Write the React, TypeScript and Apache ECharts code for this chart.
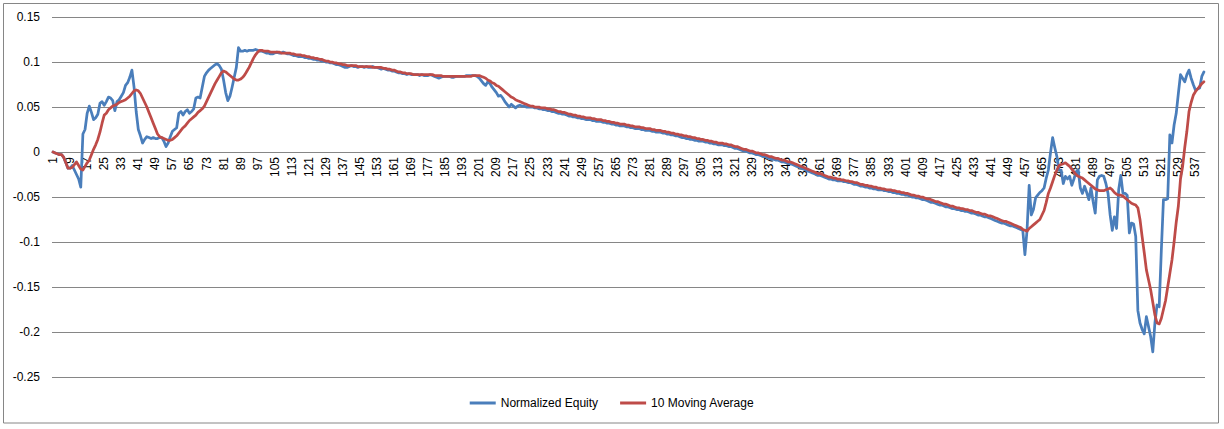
import React, { useEffect, useRef } from "react";
import * as echarts from "echarts";

const seriesNames = ["Normalized Equity", "10 Moving Average"];

const equity: number[] = [
  0, -0.001, -0.002, -0.003, -0.003, -0.006, -0.012, -0.018, -0.018, -0.015,
  -0.02, -0.025, -0.03, -0.039, 0.02, 0.025, 0.043, 0.051, 0.044, 0.036,
  0.038, 0.042, 0.054, 0.056, 0.052, 0.056, 0.061, 0.06, 0.057, 0.046,
  0.056, 0.058, 0.062, 0.066, 0.074, 0.077, 0.083, 0.091, 0.072, 0.045,
  0.025, 0.018, 0.01, 0.014, 0.017, 0.016, 0.015, 0.016, 0.015, 0.015,
  0.016, 0.016, 0.012, 0.006, 0.01, 0.017, 0.023, 0.025, 0.027, 0.043,
  0.045, 0.041, 0.045, 0.047, 0.043, 0.045, 0.048, 0.06, 0.061, 0.06,
  0.072, 0.084, 0.088, 0.091, 0.093, 0.095, 0.097, 0.098, 0.096, 0.092,
  0.08, 0.066, 0.057, 0.062, 0.072, 0.083, 0.094, 0.116, 0.112, 0.112,
  0.113, 0.112, 0.113, 0.113, 0.113, 0.114, 0.113, 0.112, 0.112, 0.111,
  0.11, 0.11, 0.109, 0.109, 0.11, 0.111, 0.11, 0.11, 0.111, 0.11,
  0.109, 0.109, 0.108, 0.107, 0.107, 0.106, 0.106, 0.106, 0.105, 0.105,
  0.104, 0.104, 0.103, 0.103, 0.102, 0.102, 0.101, 0.101, 0.1, 0.1,
  0.099, 0.099, 0.098, 0.097, 0.097, 0.096, 0.095, 0.094, 0.094, 0.095,
  0.096, 0.095, 0.095, 0.094, 0.095, 0.095, 0.094, 0.095, 0.094, 0.094,
  0.095, 0.094, 0.094, 0.093, 0.092, 0.093, 0.092, 0.091, 0.091, 0.09,
  0.09, 0.089, 0.088, 0.088, 0.087, 0.087, 0.086, 0.087, 0.086, 0.086,
  0.086, 0.086, 0.085, 0.086, 0.085, 0.085, 0.085, 0.086, 0.085, 0.084,
  0.083, 0.082, 0.083, 0.084, 0.084, 0.084, 0.084, 0.083, 0.083, 0.084,
  0.084, 0.084, 0.084, 0.084, 0.085, 0.085, 0.085, 0.085, 0.085, 0.084,
  0.082, 0.079, 0.076, 0.074, 0.078, 0.076, 0.072, 0.069, 0.066, 0.062,
  0.063, 0.06, 0.056, 0.053, 0.05, 0.053, 0.051, 0.049, 0.051, 0.052,
  0.051, 0.051, 0.05, 0.05, 0.05, 0.05, 0.049, 0.049, 0.048, 0.048,
  0.047, 0.047, 0.046, 0.046, 0.045, 0.045, 0.044, 0.043, 0.043, 0.042,
  0.042, 0.041, 0.04, 0.04, 0.039, 0.039, 0.038, 0.038, 0.037, 0.037,
  0.036, 0.036, 0.036, 0.035, 0.035, 0.034, 0.034, 0.034, 0.033, 0.033,
  0.032, 0.032, 0.031, 0.031, 0.03, 0.03, 0.029, 0.029, 0.029, 0.028,
  0.028, 0.027, 0.027, 0.026, 0.026, 0.026, 0.025, 0.025, 0.024, 0.024,
  0.024, 0.023, 0.023, 0.022, 0.022, 0.022, 0.021, 0.021, 0.02, 0.02,
  0.019, 0.019, 0.018, 0.018, 0.017, 0.016, 0.016, 0.015, 0.015, 0.014,
  0.014, 0.013, 0.013, 0.012, 0.012, 0.012, 0.011, 0.011, 0.01, 0.01,
  0.009, 0.009, 0.008, 0.008, 0.008, 0.007, 0.007, 0.006, 0.006, 0.005,
  0.004, 0.004, 0.003, 0.002, 0.001, 0.001, 0, -0.001, -0.001, -0.002,
  -0.003, -0.003, -0.004, -0.005, -0.005, -0.006, -0.007, -0.008, -0.008, -0.009,
  -0.009, -0.01, -0.011, -0.011, -0.012, -0.013, -0.013, -0.014, -0.015, -0.016,
  -0.017, -0.018, -0.019, -0.02, -0.021, -0.022, -0.023, -0.024, -0.025, -0.026,
  -0.026, -0.027, -0.028, -0.029, -0.03, -0.03, -0.031, -0.031, -0.032, -0.032,
  -0.032, -0.033, -0.033, -0.034, -0.034, -0.035, -0.036, -0.036, -0.037, -0.038,
  -0.038, -0.039, -0.039, -0.04, -0.04, -0.041, -0.041, -0.042, -0.042, -0.042,
  -0.043, -0.043, -0.044, -0.044, -0.045, -0.045, -0.046, -0.046, -0.047, -0.047,
  -0.048, -0.048, -0.049, -0.05, -0.05, -0.051, -0.051, -0.052, -0.053, -0.053,
  -0.054, -0.055, -0.056, -0.056, -0.057, -0.058, -0.059, -0.059, -0.06, -0.061,
  -0.061, -0.062, -0.063, -0.063, -0.064, -0.064, -0.065, -0.065, -0.066, -0.066,
  -0.067, -0.068, -0.068, -0.069, -0.07, -0.07, -0.071, -0.072, -0.072, -0.073,
  -0.074, -0.075, -0.076, -0.077, -0.078, -0.079, -0.079, -0.08, -0.081, -0.082,
  -0.082, -0.083, -0.084, -0.085, -0.086, -0.087, -0.114, -0.087, -0.037, -0.07,
  -0.064, -0.051, -0.048, -0.045, -0.043, -0.04, -0.029, -0.02, -0.001, 0.016,
  0.005, -0.005, -0.02, -0.02, -0.035, -0.027, -0.03, -0.027, -0.037, -0.03,
  -0.022, -0.02, -0.04, -0.046, -0.038, -0.045, -0.053, -0.04, -0.055, -0.068,
  -0.031, -0.027, -0.026, -0.027, -0.035, -0.046, -0.07, -0.087, -0.072, -0.085,
  -0.042, -0.026, -0.046, -0.046, -0.048, -0.09, -0.079, -0.08, -0.094, -0.176,
  -0.19, -0.197, -0.202, -0.183, -0.194, -0.205, -0.222, -0.19, -0.17, -0.172,
  -0.11, -0.053, -0.053, -0.052, 0.019, 0.01, 0.03, 0.043, 0.065, 0.086,
  0.082, 0.078, 0.086, 0.091, 0.082, 0.075, 0.069, 0.07, 0.071, 0.084, 0.089,
];

const movingAvg: number[] = [
  0, -0.001, -0.002, -0.003, -0.003, -0.006, -0.012, -0.018, -0.018, -0.017,
  -0.014, -0.011, -0.015, -0.019, -0.02, -0.016, -0.012, -0.009, -0.003, 0.003,
  0.008, 0.014, 0.022, 0.032, 0.041, 0.043, 0.047, 0.049, 0.051, 0.052,
  0.053, 0.055, 0.056, 0.057, 0.058, 0.06, 0.062, 0.065, 0.068, 0.069,
  0.068, 0.065, 0.06, 0.055, 0.05, 0.044, 0.038, 0.032, 0.026, 0.02,
  0.017, 0.016, 0.015, 0.014, 0.013, 0.013, 0.014, 0.016, 0.018, 0.021,
  0.024, 0.027, 0.029, 0.032, 0.035, 0.037, 0.039, 0.041, 0.044, 0.046,
  0.048, 0.051, 0.056, 0.061, 0.066, 0.071, 0.076, 0.08, 0.084, 0.088,
  0.09, 0.089, 0.087, 0.085, 0.083, 0.081, 0.08, 0.08, 0.081, 0.083,
  0.086, 0.09, 0.094, 0.099, 0.104, 0.108, 0.111, 0.113, 0.113, 0.112,
  0.112, 0.112, 0.111, 0.111, 0.111, 0.111, 0.111, 0.11, 0.11, 0.11,
  0.11, 0.11, 0.109, 0.109, 0.108, 0.108, 0.108, 0.107, 0.107, 0.106,
  0.106, 0.105, 0.105, 0.104, 0.104, 0.103, 0.103, 0.102, 0.101, 0.101,
  0.1, 0.1, 0.099, 0.099, 0.098, 0.098, 0.097, 0.097, 0.096, 0.096,
  0.096, 0.096, 0.096, 0.095, 0.095, 0.095, 0.095, 0.095, 0.095, 0.095,
  0.094, 0.094, 0.094, 0.094, 0.094, 0.093, 0.093, 0.092, 0.092, 0.091,
  0.091, 0.09, 0.089, 0.089, 0.088, 0.088, 0.087, 0.087, 0.087, 0.086,
  0.086, 0.086, 0.086, 0.086, 0.086, 0.086, 0.086, 0.086, 0.086, 0.085,
  0.085, 0.085, 0.085, 0.084, 0.084, 0.084, 0.084, 0.084, 0.084, 0.084,
  0.084, 0.084, 0.084, 0.084, 0.084, 0.084, 0.084, 0.085, 0.085, 0.085,
  0.085, 0.084, 0.083, 0.082, 0.08, 0.079, 0.077, 0.076, 0.074, 0.073,
  0.071, 0.069, 0.067, 0.065, 0.063, 0.061, 0.06, 0.058, 0.057, 0.056,
  0.055, 0.054, 0.053, 0.052, 0.051, 0.051, 0.05, 0.05, 0.05, 0.049,
  0.049, 0.049, 0.048, 0.048, 0.047, 0.047, 0.046, 0.045, 0.045, 0.044,
  0.044, 0.043, 0.042, 0.042, 0.041, 0.041, 0.04, 0.04, 0.039, 0.039,
  0.038, 0.038, 0.038, 0.037, 0.037, 0.036, 0.036, 0.036, 0.035, 0.035,
  0.034, 0.034, 0.033, 0.033, 0.032, 0.032, 0.031, 0.031, 0.031, 0.03,
  0.03, 0.029, 0.029, 0.028, 0.028, 0.028, 0.027, 0.027, 0.026, 0.026,
  0.026, 0.025, 0.025, 0.024, 0.024, 0.024, 0.023, 0.023, 0.022, 0.022,
  0.021, 0.021, 0.02, 0.02, 0.019, 0.019, 0.018, 0.018, 0.017, 0.017,
  0.016, 0.016, 0.015, 0.015, 0.014, 0.014, 0.013, 0.013, 0.012, 0.012,
  0.011, 0.011, 0.01, 0.01, 0.01, 0.009, 0.009, 0.008, 0.008, 0.007,
  0.006, 0.006, 0.005, 0.004, 0.003, 0.003, 0.002, 0.001, 0.001, 0,
  -0.001, -0.001, -0.002, -0.003, -0.003, -0.004, -0.005, -0.005, -0.006, -0.007,
  -0.007, -0.008, -0.009, -0.009, -0.01, -0.011, -0.011, -0.012, -0.013, -0.014,
  -0.015, -0.016, -0.017, -0.018, -0.019, -0.02, -0.021, -0.022, -0.023, -0.024,
  -0.024, -0.025, -0.026, -0.027, -0.028, -0.028, -0.029, -0.029, -0.03, -0.03,
  -0.031, -0.031, -0.032, -0.032, -0.033, -0.033, -0.034, -0.034, -0.035, -0.036,
  -0.036, -0.037, -0.037, -0.038, -0.038, -0.039, -0.039, -0.04, -0.04, -0.041,
  -0.041, -0.042, -0.042, -0.042, -0.043, -0.043, -0.044, -0.044, -0.045, -0.045,
  -0.046, -0.046, -0.047, -0.048, -0.048, -0.049, -0.049, -0.05, -0.05, -0.051,
  -0.052, -0.052, -0.053, -0.054, -0.055, -0.055, -0.056, -0.057, -0.058, -0.058,
  -0.059, -0.06, -0.06, -0.061, -0.062, -0.062, -0.063, -0.063, -0.064, -0.064,
  -0.065, -0.065, -0.066, -0.067, -0.067, -0.068, -0.069, -0.069, -0.07, -0.071,
  -0.071, -0.072, -0.073, -0.074, -0.075, -0.076, -0.077, -0.077, -0.078, -0.079,
  -0.08, -0.081, -0.082, -0.083, -0.084, -0.086, -0.087, -0.088, -0.085, -0.083,
  -0.081, -0.079, -0.077, -0.075, -0.07, -0.065, -0.056, -0.046, -0.04, -0.033,
  -0.026, -0.02, -0.015, -0.014, -0.013, -0.012, -0.014, -0.016, -0.019, -0.022,
  -0.025, -0.027, -0.028, -0.029, -0.031, -0.033, -0.035, -0.037, -0.039, -0.041,
  -0.042, -0.043, -0.043, -0.043, -0.042, -0.041, -0.04, -0.042, -0.045, -0.047,
  -0.048, -0.048, -0.049, -0.051, -0.053, -0.055, -0.057, -0.058, -0.059, -0.062,
  -0.075, -0.094, -0.112, -0.131, -0.142, -0.153, -0.167, -0.181, -0.19, -0.191,
  -0.185, -0.175, -0.165, -0.15, -0.135, -0.12, -0.1, -0.078, -0.06, -0.03,
  -0.016, 0.005, 0.023, 0.045, 0.055, 0.063, 0.067, 0.07, 0.073, 0.076, 0.078,
];

const categories: string[] = equity.map((_, i) => String(i + 1));

const FONT = "'Liberation Sans', Arial, sans-serif";

export default function App() {
  const ref = useRef<HTMLDivElement>(null);

  useEffect(() => {
    if (!ref.current) return;
    const chart = echarts.init(ref.current, undefined, { renderer: "svg" });
    chart.setOption({
      animation: false,
      backgroundColor: "#ffffff",
      textStyle: { fontFamily: FONT },
      graphic: [
        {
          type: "rect",
          silent: true,
          shape: { x: 3.5, y: 3.5, width: 1215, height: 419.5 },
          style: { fill: "none", stroke: "#868686", lineWidth: 1 },
        },
      ],
      grid: { left: 52, right: 19, top: 17, bottom: 52, containLabel: false, outerBoundsMode: "none" },
      legend: {
        data: seriesNames,
        left: "center",
        top: 392,
        icon: "rect",
        itemWidth: 26,
        itemHeight: 3,
        itemGap: 22,
        textStyle: { fontFamily: FONT, fontSize: 12, color: "#000" },
      },
      xAxis: {
        type: "category",
        data: categories,
        boundaryGap: true,
        position: "bottom",
        offset: -225,
        axisLine: { onZero: false, lineStyle: { color: "#868686", width: 1 } },
        axisTick: { show: false },
        axisLabel: {
          interval: 7,
          rotate: 90,
          margin: 5,
          fontFamily: FONT,
          fontSize: 12,
          color: "#000",
        },
        splitLine: { show: false },
      },
      yAxis: {
        type: "value",
        min: -0.25,
        max: 0.15,
        interval: 0.05,
        axisLine: { show: false },
        axisTick: { show: false },
        axisLabel: {
          margin: 12,
          fontFamily: FONT,
          fontSize: 12,
          color: "#000",
          formatter: (v: number) => String(parseFloat(v.toFixed(2))),
        },
        splitLine: { lineStyle: { color: "#868686", width: 1 } },
      },
      series: [
        {
          name: seriesNames[0],
          type: "line",
          data: equity,
          showSymbol: false,
          symbol: "none",
          color: "#4A7EBB",
          lineStyle: { color: "#4A7EBB", width: 2.75, join: "round", cap: "round" },
          z: 3,
        },
        {
          name: seriesNames[1],
          type: "line",
          data: movingAvg,
          showSymbol: false,
          symbol: "none",
          color: "#BE4B48",
          lineStyle: { color: "#BE4B48", width: 2.75, join: "round", cap: "round" },
          z: 4,
        },
      ],
    });
    return () => chart.dispose();
  }, []);

  return (
    <div
      style={{ position: "fixed", left: 0, top: 0, width: 1224, height: 429, background: "#fff" }}
    >
      <div ref={ref} style={{ width: 1224, height: 429 }} />
    </div>
  );
}
